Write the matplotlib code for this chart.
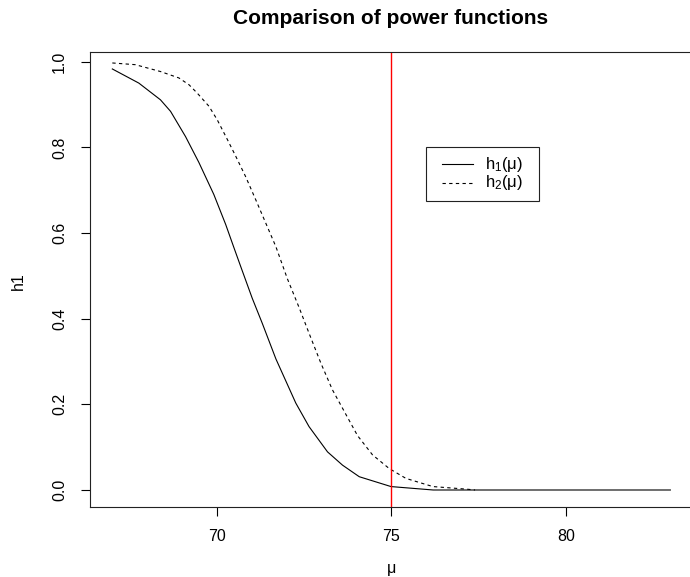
import matplotlib
matplotlib.use("Agg")
import matplotlib.pyplot as plt
from matplotlib.lines import Line2D
from matplotlib.patches import Rectangle

plt.rcParams['font.family'] = ['Liberation Sans', 'DejaVu Sans']
plt.rcParams['mathtext.fontset'] = 'custom'
plt.rcParams['mathtext.rm'] = 'Liberation Sans'
plt.rcParams['mathtext.it'] = 'Liberation Sans:italic'

# Data
mu1 = [67.0, 67.76, 68.38, 68.67, 69.10, 69.48, 69.91, 70.25, 70.49, 70.68,
       71.01, 71.30, 71.69, 72.26, 72.64, 73.17, 73.60, 74.08, 74.99, 76.2, 83.0]
h1 = [0.983, 0.950, 0.911, 0.884, 0.825, 0.765, 0.690, 0.620, 0.565, 0.522,
      0.448, 0.389, 0.306, 0.203, 0.148, 0.089, 0.058, 0.031, 0.008, 0.0, 0.0]

mu2 = [67.0, 67.66, 68.38, 68.91, 69.20, 69.43, 69.77, 70.01, 70.30, 70.54,
       70.82, 71.11, 71.40, 71.69, 72.02, 72.36, 72.64, 72.98, 73.31, 73.70,
       74.03, 74.46, 74.94, 75.42, 76.19, 77.15, 77.4]
h2 = [0.997, 0.993, 0.977, 0.962, 0.946, 0.927, 0.896, 0.864, 0.818, 0.779,
      0.732, 0.678, 0.623, 0.568, 0.493, 0.425, 0.366, 0.296, 0.234, 0.176,
      0.127, 0.082, 0.050, 0.027, 0.008, 0.002, 0.0]

vline_x = 75
xticks = [70, 75, 80]
yticks = [0.0, 0.2, 0.4, 0.6, 0.8, 1.0]
ytick_labels = ["0.0", "0.2", "0.4", "0.6", "0.8", "1.0"]
legend_labels = [r"h$_{\mathrm{1}}$(μ)", r"h$_{\mathrm{2}}$(μ)"]

W, H = 690, 577
fig = plt.figure(figsize=(W / 100, H / 100), dpi=100)
L, R, T, B = 90, 692.7, 52, 507
ax = fig.add_axes([L / W, 1 - B / H, (R - L) / W, (B - T) / H])

lw = 0.8
dash = (0, (3, 3))
ax.plot(mu1, h1, color='black', lw=lw, solid_joinstyle='round')
ax.plot(mu2, h2, color='black', lw=lw, linestyle=dash)
ax.axvline(vline_x, color='#ff0000', lw=1.0)

ax.set_xlim(66.36, 83.64)
ax.set_ylim(-0.0397, 1.0226)
ax.set_xticks(xticks)
ax.set_yticks(yticks)
ax.set_yticklabels(ytick_labels, rotation=90, va='center')
ax.tick_params(axis='both', direction='out', length=6.5, width=0.8,
               labelsize=11.5, colors='black')
ax.tick_params(axis='x', pad=9)
ax.tick_params(axis='y', pad=10)
for s in ax.spines.values():
    s.set_linewidth(0.8)
    s.set_color('#222222')

fig.text(391 / W, 1 - 24 / H, "Comparison of power functions", ha='center',
         va='baseline', fontsize=15, fontweight='bold')
fig.text(18 / W, 1 - 281 / H, "h1", rotation=90, ha='center', va='center',
         fontsize=11.5)
fig.text(392 / W, 1 - 569 / H, "μ", ha='center', va='center', fontsize=11.5)

# legend (drawn in figure pixel space)
def fx(px):
    return px / W

def fy(py):
    return 1 - py / H

fig.add_artist(Rectangle((fx(426), fy(200.5)), (539 - 426) / W, (200.5 - 147) / H,
                         transform=fig.transFigure, fill=False,
                         edgecolor='#222222', lw=0.8))
row_y = [164, 183]
styles = ['-', dash]
for yy, st, lab in zip(row_y, styles, legend_labels):
    fig.add_artist(Line2D([fx(442), fx(473)], [fy(yy), fy(yy)],
                          transform=fig.transFigure, color='black', lw=lw,
                          linestyle=st))
    fig.text(fx(485), fy(yy), lab, ha='left', va='center', fontsize=12)

fig.savefig("out.png", dpi=100, facecolor='white')
